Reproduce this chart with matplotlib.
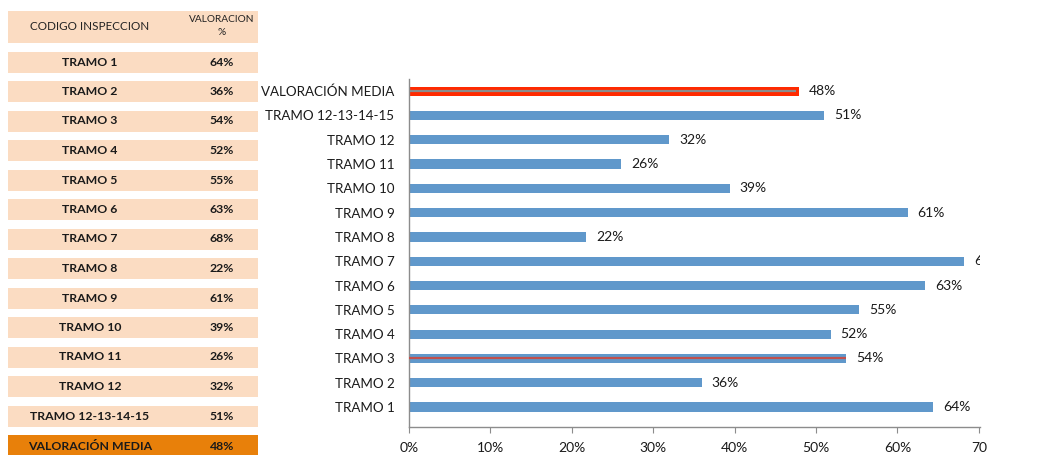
import matplotlib
matplotlib.use("Agg")
import matplotlib.pyplot as plt
from matplotlib.patches import Rectangle

plt.rcParams['font.family'] = ['Lato', 'DejaVu Sans']

categories = ["TRAMO 1", "TRAMO 2", "TRAMO 3", "TRAMO 4", "TRAMO 5", "TRAMO 6",
              "TRAMO 7", "TRAMO 8", "TRAMO 9", "TRAMO 10", "TRAMO 11", "TRAMO 12",
              "TRAMO 12-13-14-15", "VALORACIÓN MEDIA"]
values = [64.4, 36.0, 53.7, 51.8, 55.3, 63.4, 68.2, 21.8, 61.3, 39.4, 26.1, 32.0, 51.0, 47.9]
value_labels = ["64%", "36%", "54%", "52%", "55%", "63%", "68%", "22%", "61%", "39%",
                "26%", "32%", "51%", "48%"]
xtick_vals = [0, 10, 20, 30, 40, 50, 60, 70]
xtick_labels = ["0%", "10%", "20%", "30%", "40%", "50%", "60%", "70"]
table_header = ["CODIGO INSPECCION", "VALORACION\n%"]

W, H = 1051, 455
fig = plt.figure(figsize=(W / 100, H / 100), dpi=100)

# ---- left table (pixel coordinates) ----
tax = fig.add_axes([0, 0, 1, 1])
tax.set_xlim(0, W)
tax.set_ylim(H, 0)
tax.axis('off')
peach = '#FBDCC2'
orange = '#E8800A'
tx0, tx1 = 8, 258
c1, c2 = 90, 222
# header
tax.add_patch(Rectangle((tx0, 11), tx1 - tx0, 32, facecolor=peach, edgecolor='none'))
tax.text(c1, 27, table_header[0], ha='center', va='center', fontsize=8.4, color='#222222')
tax.text(c2, 26, table_header[1], ha='center', va='center', fontsize=7.3, color='#222222',
         linespacing=1.6)
row0, step, rh = 62, 29.5, 21
for i, (cat, lab) in enumerate(zip(categories, value_labels)):
    yc = row0 + i * step
    last = (i == len(categories) - 1)
    top = yc - rh / 2
    h = rh if not last else H - top + 2
    tax.add_patch(Rectangle((tx0, top), tx1 - tx0, h,
                            facecolor=orange if last else peach, edgecolor='none'))
    ytxt = yc if not last else yc + 1
    tax.text(c1, ytxt, cat, ha='center', va='center', fontsize=8.8, fontweight='bold',
             color='#1a1a1a')
    tax.text(c2, ytxt, lab, ha='center', va='center', fontsize=8.8, fontweight='bold',
             color='#1a1a1a')

# ---- bar chart ----
left_px, right_px, bottom_px, top_px = 409, 980, 427, 79
ax = fig.add_axes([left_px / W, (H - bottom_px) / H,
                   (right_px - left_px) / W, (bottom_px - top_px) / H])
blue = '#6098CB'
ypos = list(range(len(categories)))
colors = [blue] * len(categories)
colors[-1] = '#FF2A00'
ax.barh(ypos, values, height=0.38, color=colors, edgecolor='none', zorder=2)
# inner lines (line-series overlay look)
ax.plot([0, values[2]], [2, 2], color='#C0504D', lw=1.6, zorder=3, solid_capstyle='butt')
ax.plot([0, values[-1] - 0.4], [13, 13], color='#8C8C8C', lw=1.6, zorder=3,
        solid_capstyle='butt')

for y, v, lab in zip(ypos, values, value_labels):
    ax.annotate(lab, (v, y), xytext=(7, 0), textcoords='offset points', ha='left',
                va='center', fontsize=10, color='#1a1a1a', annotation_clip=False,
                clip_on=True)

ax.set_xlim(0, 70.15)
ax.set_ylim(-0.82, 13.5)
ax.set_yticks(ypos)
ax.set_yticklabels(categories, fontsize=9.6, color='#1a1a1a')
ax.set_xticks(xtick_vals)
ax.set_xticklabels(xtick_labels, fontsize=10, color='#1a1a1a')
ax.tick_params(axis='y', length=0, pad=10.5)
ax.tick_params(axis='x', length=4, color='#8C8C8C', pad=7)
for s in ['top', 'right']:
    ax.spines[s].set_visible(False)
for s in ['left', 'bottom']:
    ax.spines[s].set_color('#8C8C8C')
    ax.spines[s].set_linewidth(1.0)
ax.set_facecolor('none')

fig.savefig('out.png', dpi=100)
